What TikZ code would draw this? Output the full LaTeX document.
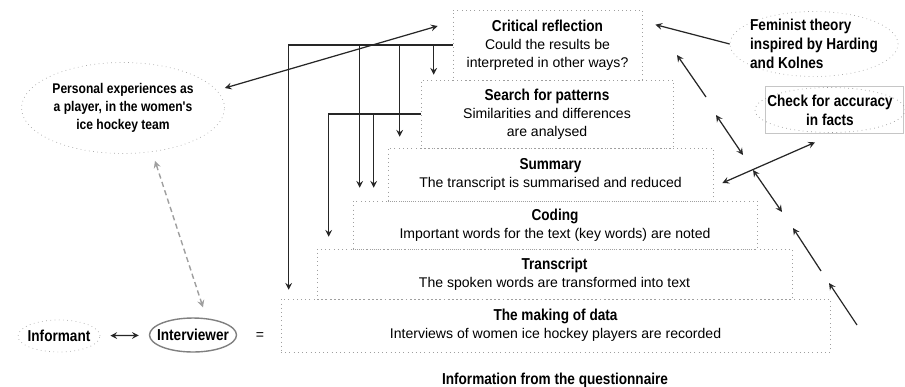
\documentclass[tikz,border=0pt]{standalone}
\usepackage{fontspec}
\setmainfont{Liberation Sans}
\newfontfamily\narrowfont{Liberation Sans}[FakeStretch=0.86]
\usetikzlibrary{shapes.geometric}

% bold, narrow heading of a stage
\newcommand\stagetitle[1]{{\fontsize{9}{10.2}\selectfont\narrowfont\bfseries #1}}

\begin{document}
\begin{tikzpicture}[x=0.02cm, y=-0.02cm,
  font=\fontsize{8}{10.2}\selectfont,
  stage/.style={draw=gray!75, dotted, align=center, inner sep=0pt},
  cloud/.style={ellipse, draw=gray!70, dotted, inner sep=-12pt,
                font=\fontsize{8}{10.2}\selectfont\narrowfont\bfseries},
  bigcloud/.style={cloud, font=\fontsize{9}{10.8}\selectfont\narrowfont\bfseries},
  link/.style={draw=black!85, line width=0.7pt}]

  \useasboundingbox (0,0) rectangle (905,386);

  % The stages, from the bottom up
  \node[stage, minimum width=10.98cm, minimum height=1.06cm] (making) at (555.5,325.5)
    {\stagetitle{The making of data}\\Interviews of women ice hockey players are recorded};
  \node[stage, minimum width=9.5cm, minimum height=1.0cm] (transcript) at (554.5,274)
    {\stagetitle{Transcript}\\The spoken words are transformed into text};
  \node[stage, minimum width=8.08cm, minimum height=0.96cm] (coding) at (555,225)
    {\stagetitle{Coding}\\Important words for the text (key words) are noted};
  \node[stage, minimum width=6.5cm, minimum height=1.06cm] (summary) at (550.5,174.5)
    {\stagetitle{Summary}\\The transcript is summarised and reduced};
  \node[stage, minimum width=5.04cm, minimum height=1.36cm] (search) at (547,114)
    {\stagetitle{Search for patterns}\\Similarities and differences\\are analysed};
  \node[stage, minimum width=3.78cm, minimum height=1.4cm] (critical) at (547.5,45)
    {\stagetitle{Critical reflection}\\Could the results be\\interpreted in other ways?};

  % Sources round the stages
  \node[cloud, align=center, minimum width=4.06cm, minimum height=1.82cm] (personal) at (123,108)
    {Personal experiences as\\a player, in the women's\\ice hockey team};
  \node[bigcloud, align=left, minimum width=3.36cm, minimum height=1.3cm] (feminist) at (814,44)
    {Feminist theory\\inspired by Harding\\and Kolnes};
  \node[draw=gray!45, minimum width=2.76cm, minimum height=0.94cm] (checkbox) at (834,109.5) {};
  \node[bigcloud, draw=gray!80, align=center, minimum width=3.0cm, minimum height=0.9cm] (check) at (830,110)
    {Check for accuracy\\in facts};
  \node[cloud, font=\fontsize{9}{11}\selectfont\narrowfont\bfseries,
    minimum width=1.64cm, minimum height=0.64cm] (informant) at (59,336) {Informant};
  \node[cloud, font=\fontsize{9}{11}\selectfont\narrowfont\bfseries, draw=gray, solid,
    line width=0.8pt, minimum width=1.74cm, minimum height=0.68cm] (interviewer) at (193,335) {Interviewer};
  \node (equals) at (260,336) {=};
  \node[font=\fontsize{9}{10.2}\selectfont\narrowfont\bfseries] (questionnaire) at (555,380)
    {Information from the questionnaire};

  % Critical reflection feeds back to every stage below
  \draw[link, -stealth] (critical.west) -| ([xshift=0.26cm,yshift=0.1cm]search.north west);
  \draw[link, -stealth] (critical.west) -| ([xshift=0.24cm,yshift=0.22cm]summary.north west);
  \draw[link, -stealth] (critical.west) -| ([xshift=0.14cm,yshift=0.26cm]coding.north west);
  \draw[link, -stealth] (critical.west) -| ([xshift=0.16cm,yshift=0.18cm]making.north west);

  % Search for patterns feeds back as well
  \draw[link, -stealth] (search.west) -| ([xshift=0.42cm,yshift=0.26cm]coding.north west);
  \draw[link, -stealth] (search.west) -| ([xshift=0.24cm,yshift=0.24cm]transcript.north west);

  % Left side
  \draw[link, stealth-stealth] ([xshift=-0.3cm,yshift=0.38cm]critical.west)
    -- ([yshift=0.4cm]personal.east);
  \draw[link, stealth-stealth, shorten <=0.2cm, shorten >=0.2cm] (informant) -- (interviewer);
  \draw[draw=gray!75, line width=0.8pt, dash pattern=on 3pt off 2pt, stealth-stealth]
    ([xshift=0.64cm,yshift=-0.14cm]personal.south) -- ([xshift=0.2cm,yshift=0.2cm]interviewer.north);

  % Right side
  \coordinate (r1a) at (706,97);
  \coordinate (r1b) at (677,55);
  \coordinate (r2a) at (716,115);
  \coordinate (r2b) at (743,155);
  \coordinate (r3a) at (753,170);
  \coordinate (r3b) at (782,212);
  \coordinate (r4a) at (821,271);
  \coordinate (r4b) at (793,228);
  \coordinate (r5a) at (857,325);
  \coordinate (r5b) at (829,283);

  \draw[link, -stealth] (feminist.west) -- ([xshift=0.26cm,yshift=-0.3cm]critical.north east);
  \draw[link, stealth-stealth] ([xshift=-0.38cm,yshift=-0.18cm]checkbox.south)
    -- ([xshift=0.18cm,yshift=-0.17cm]summary.east);
  \draw[link, -stealth] (r1a) -- (r1b);
  \draw[link, stealth-stealth] (r2a) -- (r2b);
  \draw[link, stealth-stealth] (r3a) -- (r3b);
  \draw[link, -stealth] (r4a) -- (r4b);
  \draw[link, -stealth] (r5a) -- (r5b);

\end{tikzpicture}
\end{document}
